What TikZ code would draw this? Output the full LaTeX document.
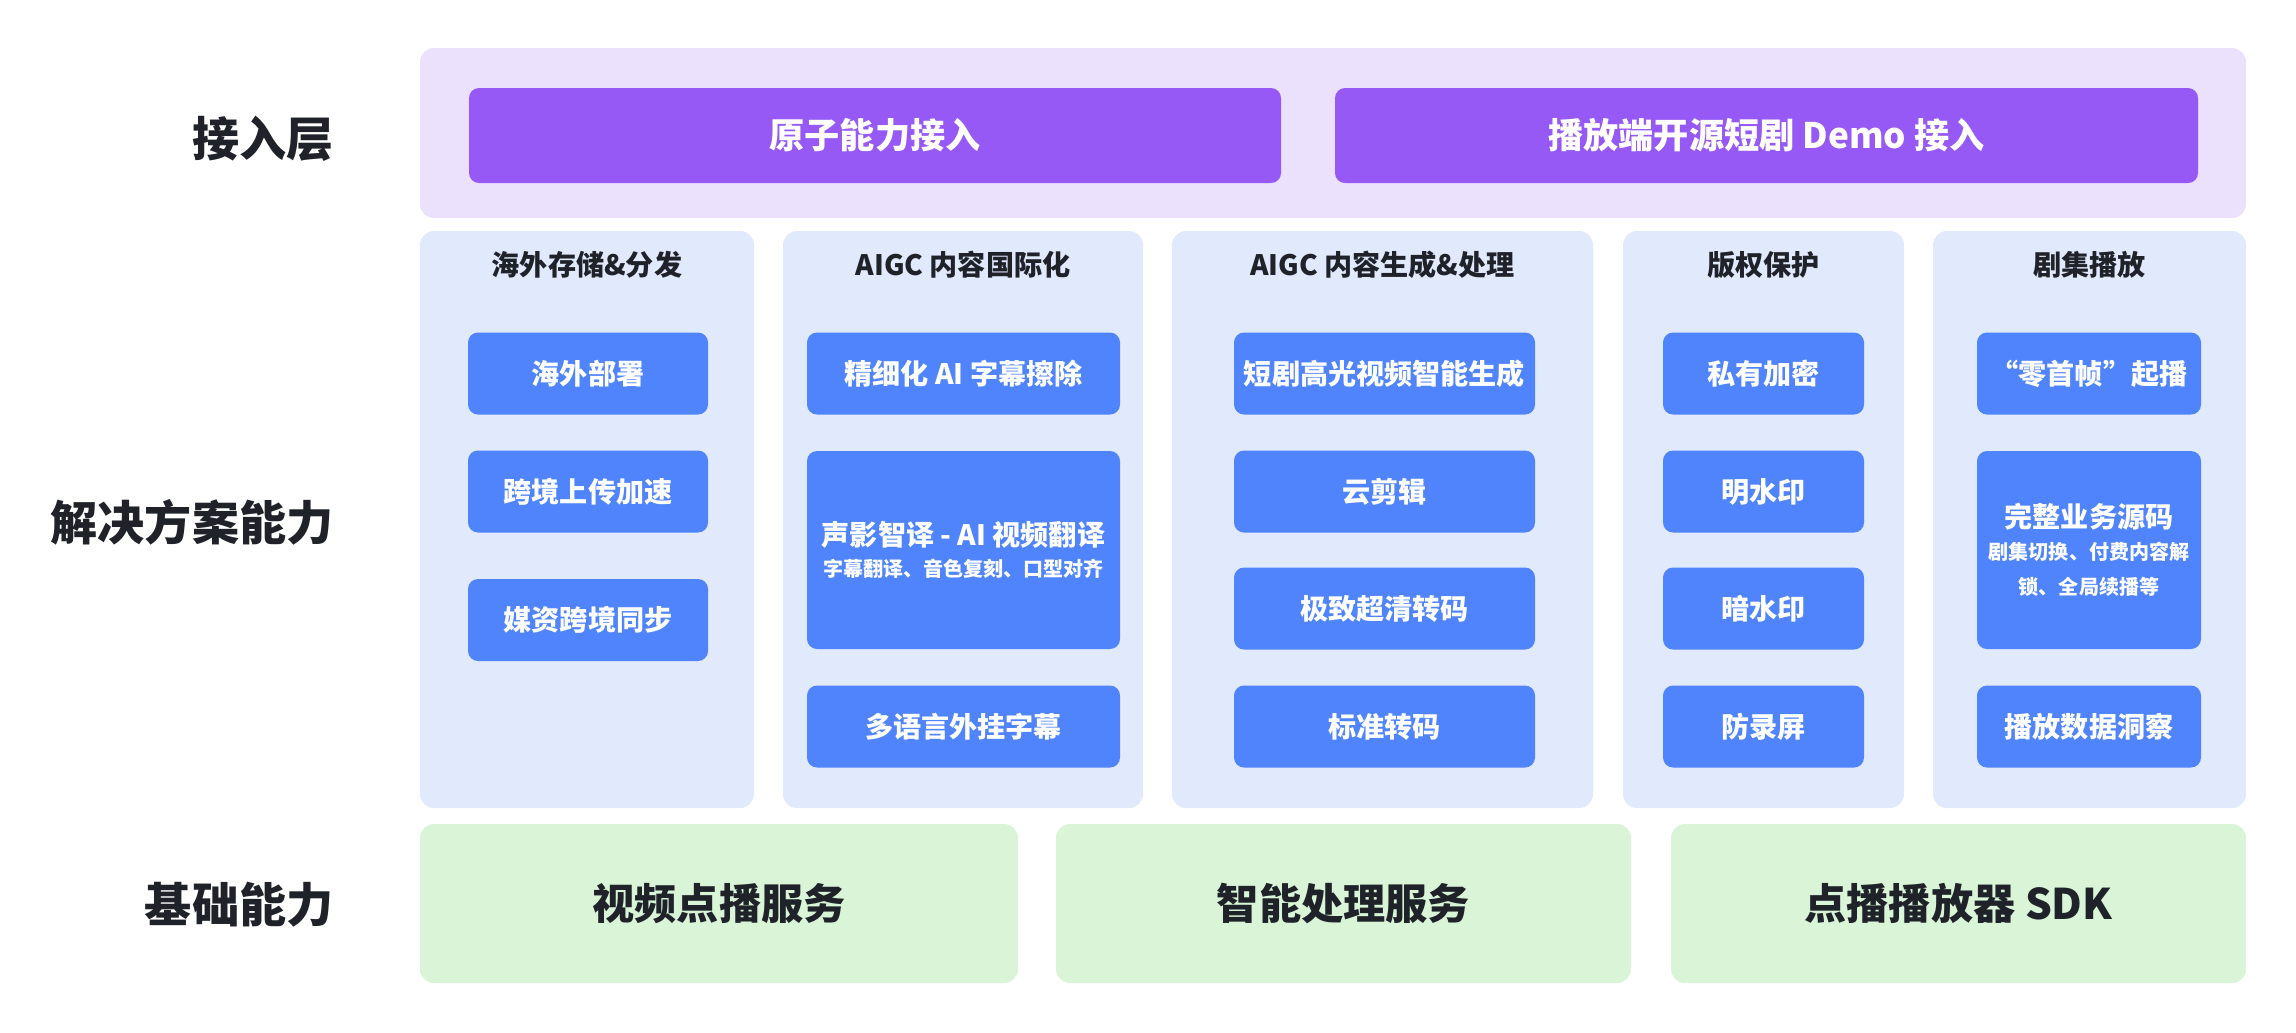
\documentclass[tikz,border=0pt]{standalone}
\usepackage{fontspec}
\setmainfont{Noto Sans CJK SC}
\definecolor{accessbg}{HTML}{EBE1FC}
\definecolor{accessbtn}{HTML}{9659F5}
\definecolor{solbg}{HTML}{E1E9FD}
\definecolor{solitem}{HTML}{4F84FC}
\definecolor{basebg}{HTML}{D9F4D7}
\definecolor{inkdark}{HTML}{1F2329}
\newcommand{\subfont}{\fontsize{5.7pt}{8pt}\selectfont\bfseries}

\begin{document}
\begin{tikzpicture}[
  layerlabel/.style={anchor=east, text=inkdark, inner sep=0pt,
    font=\fontsize{13.4pt}{16pt}\selectfont\bfseries},
  panel/.style={rectangle, rounded corners=0.14cm, inner sep=0pt},
  accesspanel/.style={panel, fill=accessbg},
  accessbtn/.style={rectangle, rounded corners=0.1cm, fill=accessbtn,
    minimum height=0.95cm, text=white, inner sep=0pt,
    font=\fontsize{10pt}{12pt}\selectfont\bfseries},
  column/.style={panel, fill=solbg, minimum height=5.77cm},
  coltitle/.style={text=inkdark, inner sep=0pt,
    font=\fontsize{8pt}{10pt}\selectfont\bfseries},
  item/.style={rectangle, rounded corners=0.1cm, fill=solitem,
    minimum height=0.82cm, text=white, inner sep=0pt, align=center,
    font=\fontsize{8pt}{10pt}\selectfont\bfseries},
  itembig/.style={item, minimum height=1.98cm},
  basebox/.style={panel, fill=basebg, minimum height=1.59cm, text=inkdark,
    font=\fontsize{12pt}{14pt}\selectfont\bfseries},
]
\fill[white] (0,0) rectangle (22.96,-10.32);
\useasboundingbox (0,0) rectangle (22.96,-10.32);

% layer labels
\node[layerlabel] (lacc) at (3.34, -1.39) {接入层};
\node[layerlabel] (lsol) at (3.34, -5.22) {解决方案能力};
\node[layerlabel] (lbase) at (3.34, -9.05) {基础能力};

% access layer
\node[accesspanel, minimum width=18.26cm, minimum height=1.70cm] (acc) at (13.33, -1.33) {};
\node[accessbtn, minimum width=8.12cm] (atom) at (8.75, -1.355) {原子能力接入};
\node[accessbtn, minimum width=8.63cm] (demo) at (17.665, -1.355) {播放端开源短剧 Demo 接入};

% solution columns
\node[column, minimum width=3.34cm] (c1) at (5.87, -5.195) {};
\node[column, minimum width=3.60cm] (c2) at (9.63, -5.195) {};
\node[column, minimum width=4.21cm] (c3) at (13.825, -5.195) {};
\node[column, minimum width=2.81cm] (c4) at (17.635, -5.195) {};
\node[column, minimum width=3.13cm] (c5) at (20.895, -5.195) {};

\node[coltitle] (t1) at (5.87, -2.65) {海外存储\&分发};
\node[coltitle] (t2) at (9.63, -2.65) {AIGC 内容国际化};
\node[coltitle] (t3) at (13.825, -2.65) {AIGC 内容生成\&处理};
\node[coltitle] (t4) at (17.635, -2.65) {版权保护};
\node[coltitle] (t5) at (20.895, -2.65) {剧集播放};

% overseas storage
\node[item, minimum width=2.40cm] (deploy) at (5.88, -3.735) {海外部署};
\node[item, minimum width=2.40cm] (upload) at (5.88, -4.915) {跨境上传加速};
\node[item, minimum width=2.40cm] (sync) at (5.88, -6.20) {媒资跨境同步};

% AIGC i18n
\node[item, minimum width=3.13cm] (erase) at (9.635, -3.735) {精细化 AI 字幕擦除};
\node[itembig, minimum width=3.13cm] (dub) at (9.635, -5.50)
  {声影智译 - AI 视频翻译\\[-1pt]
   {\subfont 字幕翻译、音色复刻、口型对齐}};
\node[item, minimum width=3.13cm] (subs) at (9.635, -7.265) {多语言外挂字幕};

% AIGC generation
\node[item, minimum width=3.01cm] (highlight) at (13.845, -3.735) {短剧高光视频智能生成};
\node[item, minimum width=3.01cm] (cloudedit) at (13.845, -4.915) {云剪辑};
\node[item, minimum width=3.01cm] (uhd) at (13.845, -6.085) {极致超清转码};
\node[item, minimum width=3.01cm] (stdtc) at (13.845, -7.265) {标准转码};

% copyright
\node[item, minimum width=2.01cm] (encrypt) at (17.635, -3.735) {私有加密};
\node[item, minimum width=2.01cm] (vismark) at (17.635, -4.915) {明水印};
\node[item, minimum width=2.01cm] (hidmark) at (17.635, -6.085) {暗水印};
\node[item, minimum width=2.01cm] (norec) at (17.635, -7.265) {防录屏};

% playback
\node[item, minimum width=2.24cm] (firstframe) at (20.89, -3.735) {“零首帧”起播};
\node[itembig, minimum width=2.24cm] (source) at (20.89, -5.50)
  {完整业务源码\\[-1pt]
   {\subfont 剧集切换、付费内容解}\\
   {\subfont 锁、全局续播等}};
\node[item, minimum width=2.24cm] (insight) at (20.89, -7.265) {播放数据洞察};

% base layer
\node[basebox, minimum width=5.98cm] (vod) at (7.19, -9.035) {视频点播服务};
\node[basebox, minimum width=5.75cm] (aiproc) at (13.435, -9.035) {智能处理服务};
\node[basebox, minimum width=5.75cm] (sdk) at (19.585, -9.035) {点播播放器 SDK};

\end{tikzpicture}
\end{document}
